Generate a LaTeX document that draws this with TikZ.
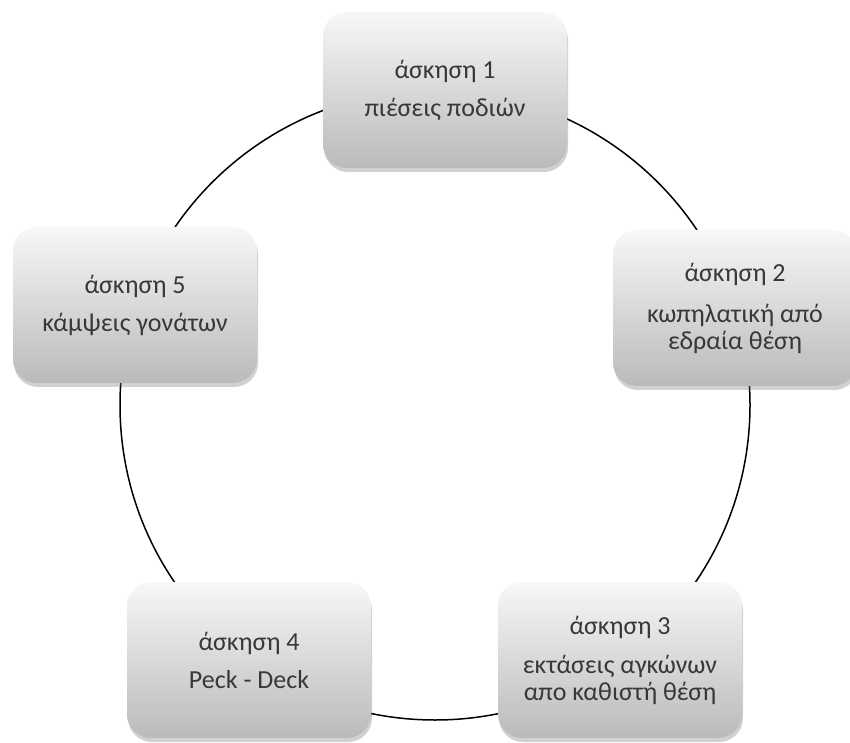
\documentclass[tikz,border=0pt]{standalone}
\usepackage{fontspec}
\setmainfont{Carlito}
\usetikzlibrary{shadows}

\begin{document}
\begin{tikzpicture}[x=1pt,y=1pt,
  exercise/.style={rounded corners=24pt,minimum width=244pt,minimum height=156pt,
    top color=black!3,bottom color=black!27,
    drop shadow={shadow xshift=1pt,shadow yshift=-4pt,opacity=.3,fill=black!60},
    align=center,text=black!78,font=\fontsize{26}{27}\selectfont}]
\useasboundingbox (0,0) rectangle (850,742);
\coordinate (mid) at (435,337);
\draw[line width=1.5pt] (mid) circle[radius=315];
\node[exercise] (ex1) at (445,652) {άσκηση 1\\[11pt]πιέσεις ποδιών};
\node[exercise] (ex2) at (735,434) {άσκηση 2\\[14pt]κωπηλατική από\\εδραία θέση};
\node[exercise] (ex3) at (620,82) {άσκηση 3\\[12pt]εκτάσεις αγκώνων\\απο καθιστή θέση};
\node[exercise] (ex4) at (249,82) {άσκηση 4\\[11pt]Peck - Deck};
\node[exercise] (ex5) at (135,437) {άσκηση 5\\[11pt]κάμψεις γονάτων};
\end{tikzpicture}
\end{document}
